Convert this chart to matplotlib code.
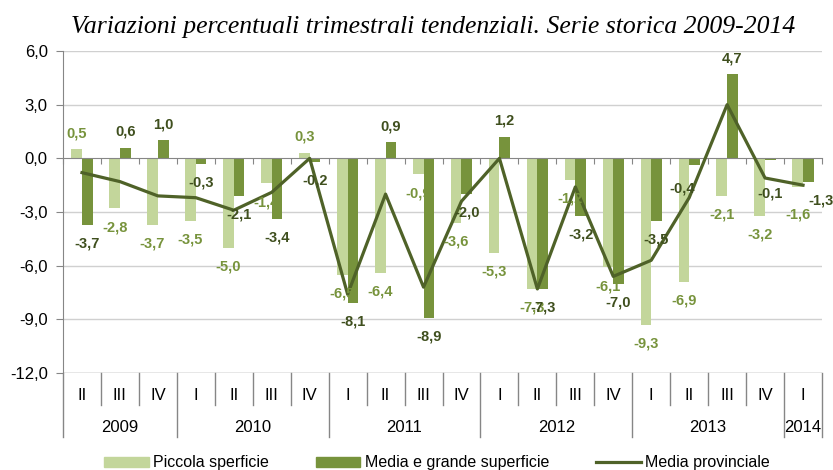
import matplotlib.pyplot as plt
import matplotlib.transforms as mtransforms
from matplotlib.patches import Patch
from matplotlib.lines import Line2D
import numpy as np

# Trimestri e anni
quarters = ["II", "III", "IV",
            "I", "II", "III", "IV",
            "I", "II", "III", "IV",
            "I", "II", "III", "IV",
            "I", "II", "III", "IV",
            "I"]
years = ["2009", "2010", "2011", "2012", "2013", "2014"]
quarters_per_year = [3, 4, 4, 4, 4, 1]

# Serie
piccola = [0.5, -2.8, -3.7, -3.5, -5.0, -1.4, 0.3, -6.5, -6.4, -0.9,
           -3.6, -5.3, -7.3, -1.2, -6.1, -9.3, -6.9, -2.1, -3.2, -1.6]
media_grande = [-3.7, 0.6, 1.0, -0.3, -2.1, -3.4, -0.2, -8.1, 0.9, -8.9,
                -2.0, 1.2, -7.3, -3.2, -7.0, -3.5, -0.4, 4.7, -0.1, -1.3]
media_provinciale = [-0.8, -1.3, -2.1, -2.2, -2.9, -1.9, 0.0, -7.6, -2.0, -7.2,
                     -2.4, 0.0, -7.3, -1.6, -6.6, -5.7, -2.2, 3.0, -1.1, -1.5]

c_light = "#c3d69b"
c_dark = "#77933c"
c_line = "#4f6228"
c_lab_light = "#77933c"
c_lab_dark = "#3f4f1e"
c_axis = "#868686"
c_grid = "#d0d0d0"

plt.rcParams['font.family'] = ['Liberation Sans', 'DejaVu Sans']

fig = plt.figure(figsize=(8.33, 4.70), dpi=100)
ax = fig.add_axes([63 / 833, 1 - 373 / 470, (822 - 63) / 833, (373 - 51) / 470])

x = np.arange(len(quarters))
w = 0.28
ax.bar(x - w / 2, piccola, w, color=c_light, zorder=2)
ax.bar(x + w / 2, media_grande, w, color=c_dark, zorder=2)
ax.plot(x, media_provinciale, color=c_line, lw=2.3, zorder=4)

def fmt(v):
    return f"{v:.1f}".replace(".", ",")

# etichette spostate a mano (come nell'originale)
shift_light = {19: (0, -20)}
shift_dark = {16: (-9, -16.5), 18: (0, -24), 19: (9, -13.5)}

def label_bars(values, dx, color, shifts):
    for i, v in enumerate(values):
        off = (0, 11.5) if v >= 0 else (0, -13.5)
        off = shifts.get(i, off)
        ax.annotate(fmt(v), (x[i] + dx, v), xytext=off,
                    textcoords="offset points", ha="center", va="center",
                    fontsize=10.5, fontweight="bold", color=color, zorder=5,
                    annotation_clip=False)

label_bars(piccola, -w / 2, c_lab_light, shift_light)
label_bars(media_grande, w / 2, c_lab_dark, shift_dark)

# assi
ax.set_xlim(-0.5, len(quarters) - 0.5)
ax.set_ylim(-12, 6)
ax.set_yticks(np.arange(-12, 7, 3))
ax.set_yticklabels([fmt(t) for t in np.arange(-12, 7, 3)], fontsize=12)
for t in [6, 3, -3, -6, -9]:
    ax.axhline(t, color=c_grid, lw=1, zorder=1)
ax.axhline(-12, color=c_axis, lw=1, zorder=3)

for s in ["top", "right"]:
    ax.spines[s].set_visible(False)
ax.spines["left"].set_color(c_axis)
ax.spines["bottom"].set_color(c_axis)
ax.spines["bottom"].set_position(("data", 0))
ax.spines["bottom"].set_zorder(3)
ax.tick_params(axis="y", length=5, color=c_axis, pad=6)
ax.set_xticks(np.arange(-0.5, len(quarters), 1.0))
ax.set_xticklabels([])
ax.tick_params(axis="x", length=4, color=c_axis, direction="out")

# etichette categorie (trimestre / anno)
trans = mtransforms.blended_transform_factory(ax.transData, ax.transAxes)
h = 322.0
for xi, q in zip(x, quarters):
    ax.text(xi, -(395 - 373) / h, q, transform=trans, ha="center", va="center",
            fontsize=12, clip_on=False)
year_edges = np.concatenate([[0], np.cumsum(quarters_per_year)]) - 0.5
for b in np.arange(-0.5, len(quarters), 1.0):
    long = np.isclose(year_edges, b).any()
    y_end = -(437 - 373) / h if long else -(405 - 373) / h
    ax.plot([b, b], [0, y_end], transform=trans, color=c_axis, lw=1, clip_on=False)
for i, yr in enumerate(years):
    xc = (year_edges[i] + year_edges[i + 1]) / 2
    ax.text(xc, -(427 - 373) / h, yr, transform=trans, ha="center", va="center",
            fontsize=12, clip_on=False)

fig.text(433 / 833, 1 - 27 / 470, "Variazioni percentuali trimestrali tendenziali. Serie storica 2009-2014",
         ha="center", va="center", fontsize=18.5, style="italic", family="Liberation Serif")

handles = [Patch(color=c_light), Patch(color=c_dark), Line2D([], [], color=c_line, lw=2.3)]
labels = ["Piccola sperficie", "Media e grande superficie", "Media provinciale"]
fig.legend(handles, labels, loc="center", bbox_to_anchor=(437 / 833, 1 - 463 / 470), ncol=3,
           frameon=False, fontsize=11.5, handlelength=2.8, handleheight=0.6,
           handletextpad=0.3, columnspacing=2.9, borderpad=0)

plt.savefig("out.png", dpi=100)
